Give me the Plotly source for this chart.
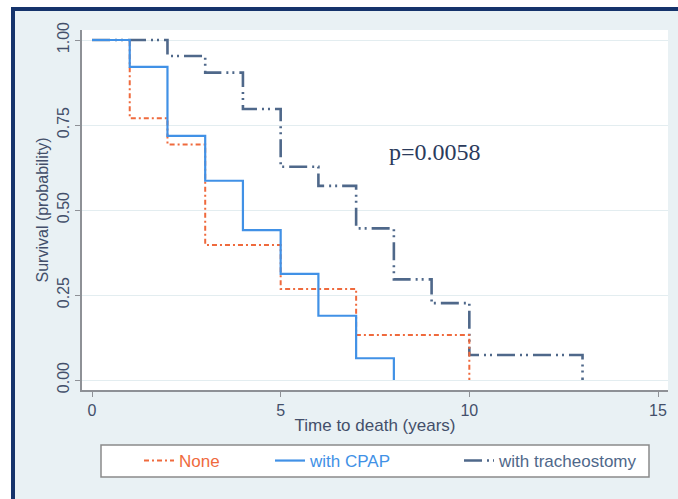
import plotly.graph_objects as go

# Kaplan-Meier survival estimates by respiratory support group
none_time = [0, 1, 2, 3, 5, 7, 10]
none_surv = [1.0, 0.770, 0.693, 0.397, 0.268, 0.132, 0.0]

cpap_time = [0, 1, 2, 3, 4, 5, 6, 7, 8]
cpap_surv = [1.0, 0.921, 0.718, 0.586, 0.441, 0.312, 0.189, 0.064, 0.0]

trach_time = [0, 2, 3, 4, 5, 6, 7, 8, 9, 10, 13]
trach_surv = [1.0, 0.953, 0.904, 0.797, 0.627, 0.571, 0.446, 0.296, 0.226, 0.0735, 0.0]

group_names = ["None", "with CPAP", "with tracheostomy"]
x_ticks = [0, 5, 10, 15]
y_ticks = [0.0, 0.25, 0.50, 0.75, 1.00]
p_label = "p=0.0058"

C_NONE = "#ef6a3d"
C_CPAP = "#4191e6"
C_TRACH = "#4f688a"
TEXT = "#434f6a"
AXIS = "#8e9196"

W, H = 678, 499
ML, MR, MT, MB = 82, 10, 30, 109
PW, PH = W - ML - MR, H - MT - MB


def px_x(p):
    return (p - ML) / PW


def px_y(p):
    return (H - MB - p) / PH


fig = go.Figure()

fig.add_trace(go.Scatter(
    x=trach_time, y=trach_surv, mode="lines", line_shape="hv",
    name=group_names[2], legend="legend3", showlegend=True,
    line=dict(color=C_TRACH, width=2.6, dash="18px,5px,2px,4px,2px,5px"),
))
fig.add_trace(go.Scatter(
    x=none_time, y=none_surv, mode="lines", line_shape="hv",
    name=group_names[0], legend="legend", showlegend=True,
    line=dict(color=C_NONE, width=2.0, dash="5px,3px,2px,3px"),
))
fig.add_trace(go.Scatter(
    x=cpap_time, y=cpap_surv, mode="lines", line_shape="hv",
    name=group_names[1], legend="legend2", showlegend=True,
    line=dict(color=C_CPAP, width=2.2),
))

fig.add_annotation(
    x=9.09, y=0.67, xref="x", yref="y", text=p_label, showarrow=False,
    font=dict(family="Liberation Serif, Times New Roman, serif", size=24, color="#2b3b5c"),
)

shapes = [
    # outer panel with navy frame
    dict(type="rect", xref="paper", yref="paper", layer="below",
         x0=px_x(13), x1=px_x(720), y0=px_y(540), y1=px_y(9),
         fillcolor="#e9f1f4", line=dict(color="#15336b", width=4)),
    # white plotting region
    dict(type="rect", xref="paper", yref="paper", layer="below",
         x0=0, x1=1, y0=0, y1=1, fillcolor="white", line=dict(width=0)),
    # legend box
    dict(type="rect", xref="paper", yref="paper", layer="below",
         x0=px_x(101), x1=px_x(649), y0=px_y(477), y1=px_y(445),
         fillcolor="white", line=dict(color="#8a8a8a", width=1.5)),
]

legend_common = dict(
    bgcolor="rgba(0,0,0,0)", borderwidth=0, orientation="h",
    xanchor="left", yanchor="middle", y=px_y(461),
)

fig.update_layout(
    width=W, height=H, autosize=False, showlegend=True,
    margin=dict(l=ML, r=MR, t=MT, b=MB, pad=0),
    paper_bgcolor="white", plot_bgcolor="white",
    font=dict(family="Liberation Sans, Arial, sans-serif", color=TEXT),
    shapes=shapes,
    legend=dict(x=px_x(139), font=dict(size=17, color=C_NONE), **legend_common),
    legend2=dict(x=px_x(270), font=dict(size=17, color=C_CPAP), **legend_common),
    legend3=dict(x=px_x(459), font=dict(size=17, color=C_TRACH), **legend_common),
    xaxis=dict(
        range=[-0.265, 15.265], tickvals=x_ticks, showgrid=False, zeroline=False,
        showline=True, linecolor=AXIS, linewidth=1.5,
        ticks="outside", ticklen=5, tickcolor=AXIS, tickwidth=1,
        tickfont=dict(size=16, color=TEXT),
        title=dict(text="Time to death (years)", font=dict(size=17, color=TEXT), standoff=1),
    ),
    yaxis=dict(
        range=[-0.0294, 1.0294], tickvals=y_ticks, tickformat=".2f", tickangle=-90,
        showgrid=True, gridcolor="#e3edf0", gridwidth=1, zeroline=False,
        showline=True, linecolor=AXIS, linewidth=1.5,
        ticks="outside", ticklen=5, tickcolor=AXIS, tickwidth=1,
        tickfont=dict(size=16, color=TEXT),
        title=dict(text="Survival (probability)", font=dict(size=16, color=TEXT), standoff=2),
    ),
)

fig.write_html("out.html")
